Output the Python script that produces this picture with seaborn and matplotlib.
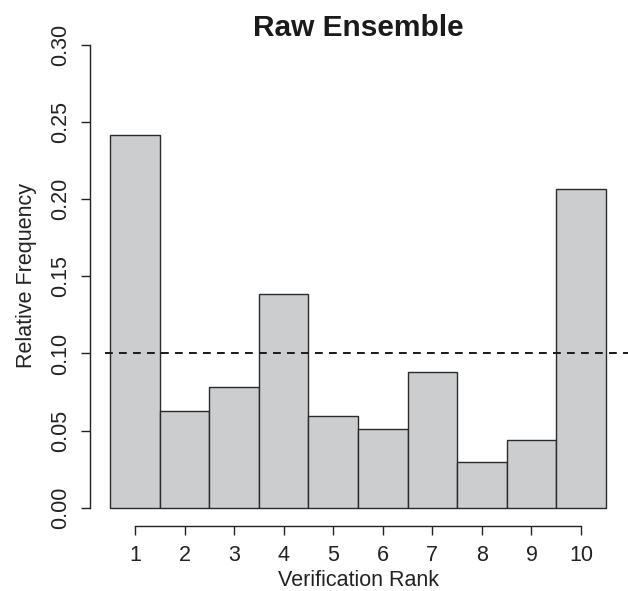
import matplotlib
matplotlib.use("Agg")
import matplotlib.pyplot as plt
import seaborn as sns
import pandas as pd

ranks = ["1", "2", "3", "4", "5", "6", "7", "8", "9", "10"]
freq = [0.2415, 0.0627, 0.0785, 0.1386, 0.0595, 0.0508, 0.0878, 0.0298, 0.0437, 0.2067]
yticks = [0.00, 0.05, 0.10, 0.15, 0.20, 0.25, 0.30]
ytick_labels = ["0.00", "0.05", "0.10", "0.15", "0.20", "0.25", "0.30"]
ref_line = 0.10

sns.set_style("white")
plt.rcParams['font.family'] = ['Liberation Sans', 'DejaVu Sans']

W, H = 628, 591
fig = plt.figure(figsize=(W / 100, H / 100), dpi=100)
ax_l, ax_r, ax_t, ax_b = 90, 626, 26.5, 526.2
ax = fig.add_axes([ax_l / W, (H - ax_b) / H, (ax_r - ax_l) / W, (ax_b - ax_t) / H])

df = pd.DataFrame({"rank": ranks, "freq": freq})
sns.barplot(data=df, x="rank", y="freq", order=ranks, width=1.0,
            color="#cccdcf", saturation=1, edgecolor="#2a2a2a", linewidth=1.0, ax=ax)

ax.set_xlim(-0.907, 9.907)
ax.set_ylim(-0.012, 0.312)

ax.axhline(ref_line, xmin=(105 - ax_l) / (ax_r - ax_l), xmax=(628 - ax_l) / (ax_r - ax_l),
           color="#1a1a1a", linestyle=(0, (4, 3.2)), linewidth=1.4, clip_on=False)

for s in ["top", "right"]:
    ax.spines[s].set_visible(False)
ax.spines["left"].set_bounds(0, 0.30)
ax.spines["bottom"].set_bounds(0, 9)
for s in ["left", "bottom"]:
    ax.spines[s].set_color("#222222")
    ax.spines[s].set_linewidth(1.0)

ax.set_yticks(yticks)
ax.set_yticklabels(ytick_labels, rotation=90, va="center")
ax.set_xticks(range(len(ranks)))
ax.set_xticklabels(ranks)
ax.tick_params(axis="both", which="both", direction="out", length=6.5, width=1.0,
               bottom=True, left=True,
               color="#222222", labelcolor="#222222", labelsize=15.5)
ax.tick_params(axis="x", pad=7)
ax.tick_params(axis="y", pad=7)

ax.set_xlabel("Verification Rank", fontsize=15.5, color="#222222")
ax.set_ylabel("Relative Frequency", fontsize=15.5, color="#222222")
ax.xaxis.label.set_va("center")
ax.yaxis.label.set_va("center")
ax.xaxis.set_label_coords((358 - ax_l) / (ax_r - ax_l), (ax_b - 580) / (ax_b - ax_t))
ax.yaxis.set_label_coords((27 - ax_l) / (ax_r - ax_l), (ax_b - 276) / (ax_b - ax_t))

fig.text(358 / W, 1 - 28 / H, "Raw Ensemble", ha="center", va="center",
         fontsize=21.5, fontweight="bold", color="#1a1a1a")

fig.savefig("out.png", dpi=100, facecolor="white")
